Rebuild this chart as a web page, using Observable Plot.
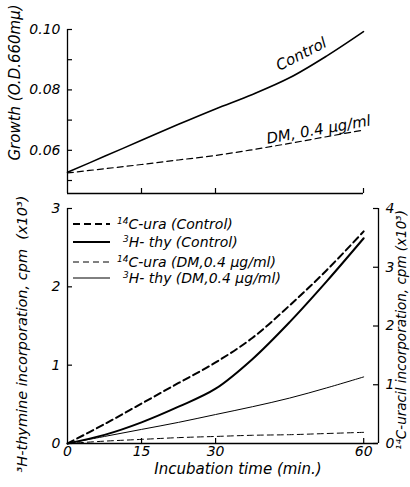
<!DOCTYPE html>
<html><head><meta charset="utf-8">
<script src="https://cdn.jsdelivr.net/npm/d3@7"></script>
<script src="https://cdn.jsdelivr.net/npm/@observablehq/plot@0.6"></script>
<style>
body{margin:0;background:#fff;}
#wrap{position:relative;width:410px;height:487px;overflow:hidden;font-family:"DejaVu Sans",sans-serif;font-style:italic;background:#fff;}
#wrap svg{position:absolute;left:0;overflow:visible;}
</style></head><body><div id="wrap"></div>
<script>
// ---- data ----
const minutes = [0, 7.5, 15, 22.5, 30, 37.5, 45, 52.5, 60];
// Growth (O.D. 660 mμ)
const growthControl = [0.0527, 0.0580, 0.0633, 0.0686, 0.0737, 0.0785, 0.0840, 0.0912, 0.0993];
const growthDM      = [0.0525, 0.0539, 0.0553, 0.0568, 0.0583, 0.0602, 0.0623, 0.0645, 0.0667];
// 3H-thymine incorporation, cpm (x10^3) – left axis
const thyControl = [0, 0.11, 0.27, 0.47, 0.70, 1.08, 1.55, 2.07, 2.62];
const thyDM      = [0, 0.09, 0.18, 0.27, 0.37, 0.47, 0.58, 0.71, 0.85];
// 14C-uracil incorporation, cpm (x10^3) – right axis
const uraControl = [0, 0.33, 0.68, 1.03, 1.38, 1.80, 2.35, 2.95, 3.61];
const uraDM      = [0, 0.04, 0.07, 0.10, 0.12, 0.14, 0.15, 0.17, 0.19];

const timeTicks = [15, 30, 60];
const timeLabels = [0, 15, 30, 60];
const growthTicks = [0.05, 0.06, 0.07, 0.08, 0.09, 0.10];
const growthLabels = [0.06, 0.08, 0.10];
const thyTicks = [0, 1, 2, 3];
const uraTicks = [0, 1, 2, 3, 4];
const growthDomain = [0.0457, 0.10];
const timeDomainBottom = [0, 63];
const thyDomain = [0, 3];
const uraMax = 4;

const curveLabels = [
  {t: 47.4, v: 0.0918, text: "Control", rotate: -27},
  {t: 50.9, v: 0.0668, text: "DM, 0.4 μg/ml", rotate: -10}
];
const legendItems = [
  {sup: "14", main: "C-ura (Control)", width: 2, dash: "7,4", indent: 0},
  {sup: "3", main: "H- thy (Control)", width: 2, dash: null, indent: 6},
  {sup: "14", main: "C-ura (DM,0.4 μg/ml)", width: 1, dash: "6,4", indent: 0},
  {sup: "3", main: "H- thy (DM,0.4 μg/ml)", width: 1, dash: null, indent: 6}
];
const titles = {
  growth: "Growth (O.D.660mμ)",
  time: "Incubation time (min.)",
  thy: "³H-thymine incorporation, cpm  (x10³)",
  ura: "¹⁴C-uracil incorporation, cpm (x10³)"
};

// ---- tables ----
const growthRows = minutes.flatMap((t, i) => [
  {t, v: growthControl[i], s: "control"},
  {t, v: growthDM[i], s: "dm"}
]);
const k = thyDomain[1] / uraMax; // uracil units -> thymine axis units
const incRows = minutes.flatMap((t, i) => [
  {t, v: uraControl[i] * k, s: "uraC"},
  {t, v: thyControl[i], s: "thyC"},
  {t, v: uraDM[i] * k, s: "uraD"},
  {t, v: thyDM[i], s: "thyD"}
]);

const style = {fontFamily: '"DejaVu Sans", sans-serif', fontSize: "14px", fontStyle: "italic", background: "transparent", overflow: "visible"};

const wrap = document.getElementById("wrap");

// ---- top panel ----
const TW = 410 - 67 - 47, TH = 200 - 29 - 7;
const topPlot = Plot.plot({
  width: 410, height: 200,
  marginLeft: 67, marginRight: 47, marginTop: 29, marginBottom: 7,
  style,
  x: {domain: [0, 60], axis: null},
  y: {domain: growthDomain, axis: null},
  marks: [
    Plot.ruleX([0], {strokeWidth: 1.3}),
    Plot.ruleY([growthDomain[0]], {strokeWidth: 1.3}),
    Plot.tickY(growthTicks, {y: d => d, insetRight: TW - 5, strokeWidth: 1.2}),
    Plot.tickX(timeTicks, {x: d => d, insetTop: TH - 5, strokeWidth: 1.2}),
    Plot.axisY({ticks: growthLabels, tickSize: 0, tickPadding: 7, label: null, tickFormat: d3.format(".2f")}),
    Plot.line(growthRows.filter(d => d.s === "control"), {x: "t", y: "v", stroke: "black", strokeWidth: 1.6, curve: "catmull-rom"}),
    Plot.line(growthRows.filter(d => d.s === "dm"), {x: "t", y: "v", stroke: "black", strokeWidth: 1.2, strokeDasharray: "6,4", curve: "catmull-rom"}),
    Plot.text(curveLabels, {x: "t", y: "v", text: "text", rotate: "rotate", fontSize: 15}),
    Plot.text([titles.growth], {frameAnchor: "left", textAnchor: "middle", rotate: -90, dx: -52, dy: -29, fontSize: 15})
  ]
});
topPlot.style.top = "0px";
wrap.appendChild(topPlot);

// ---- bottom panel ----
const BW = 410 - 67 - 32, BH = 287 - 8 - 44;
const styles = {
  uraC: {strokeWidth: 2, strokeDasharray: "7,4"},
  thyC: {strokeWidth: 2},
  uraD: {strokeWidth: 1, strokeDasharray: "6,4"},
  thyD: {strokeWidth: 1}
};
const intFmt = d3.format("d");
const bottomPlot = Plot.plot({
  width: 410, height: 287,
  marginLeft: 67, marginRight: 32, marginTop: 8, marginBottom: 44,
  style,
  x: {domain: timeDomainBottom, axis: null},
  y: {domain: thyDomain, axis: null},
  marks: [
    Plot.ruleX(timeDomainBottom, {strokeWidth: 1.3}),
    Plot.ruleY([0], {strokeWidth: 1.3}),
    Plot.tickY(thyTicks, {y: d => d, insetRight: BW - 5, strokeWidth: 1.2}),
    Plot.tickY(uraTicks.map(v => v * k), {y: d => d, insetLeft: BW - 5, strokeWidth: 1.2}),
    Plot.tickX(timeTicks, {x: d => d, insetTop: BH - 5, strokeWidth: 1.2}),
    Plot.axisY({ticks: thyTicks, tickSize: 0, tickPadding: 7, label: null, tickFormat: intFmt}),
    Plot.axisY({anchor: "right", ticks: uraTicks.map(v => v * k), tickFormat: d => String(Math.round(d / k)), tickSize: 0, tickPadding: 7, label: null}),
    Plot.axisX({ticks: timeLabels, tickSize: 0, tickPadding: 3, label: null, tickFormat: intFmt}),
    ...Object.keys(styles).map(s => Plot.line(incRows.filter(d => d.s === s), {x: "t", y: "v", stroke: "black", curve: "catmull-rom", ...styles[s]})),
    Plot.text([titles.time], {frameAnchor: "bottom", textAnchor: "middle", dy: 30, dx: 15, fontSize: 15}),
    Plot.text([titles.thy], {frameAnchor: "left", textAnchor: "middle", rotate: -90, dx: -45, dy: 8, fontSize: 14.5}),
    Plot.text([titles.ura], {frameAnchor: "right", textAnchor: "middle", rotate: -90, dx: 23, dy: 4, fontSize: 13.5})
  ]
});
bottomPlot.style.top = "200px";
wrap.appendChild(bottomPlot);

// ---- legend (inside bottom panel) ----
const ns = "http://www.w3.org/2000/svg";
const leg = document.createElementNS(ns, "svg");
leg.setAttribute("width", 410); leg.setAttribute("height", 487);
leg.style.top = "0px";
const legY = [224, 242, 262, 278];
legendItems.forEach((it, i) => {
  const y = legY[i];
  const ln = document.createElementNS(ns, "line");
  ln.setAttribute("x1", 73); ln.setAttribute("x2", 110);
  ln.setAttribute("y1", y); ln.setAttribute("y2", y);
  ln.setAttribute("stroke", "black"); ln.setAttribute("stroke-width", it.width);
  if (it.dash) ln.setAttribute("stroke-dasharray", it.dash);
  leg.appendChild(ln);
  const tx = document.createElementNS(ns, "text");
  tx.setAttribute("x", 117 + it.indent); tx.setAttribute("y", y + 5);
  tx.setAttribute("font-size", 14);
  tx.setAttribute("font-family", '"DejaVu Sans", sans-serif');
  tx.setAttribute("font-style", "italic");
  const s1 = document.createElementNS(ns, "tspan");
  s1.setAttribute("font-size", 9); s1.setAttribute("dy", -5);
  s1.textContent = it.sup;
  const s2 = document.createElementNS(ns, "tspan");
  s2.setAttribute("dy", 5);
  s2.textContent = it.main;
  tx.appendChild(s1); tx.appendChild(s2);
  leg.appendChild(tx);
});
wrap.appendChild(leg);
</script></body></html>
